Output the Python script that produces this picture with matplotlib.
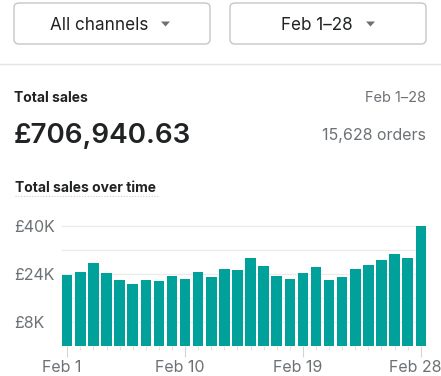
import matplotlib.pyplot as plt
from matplotlib.patches import FancyBboxPatch, Polygon
from matplotlib.lines import Line2D
import matplotlib.transforms as mtransforms

plt.rcParams['font.family'] = ['Inter', 'DejaVu Sans']

days = list(range(1, 29))
sales_k = [23.8, 24.7, 27.8, 24.2, 21.9, 20.7, 21.9, 21.6, 23.4, 22.2,
           24.7, 23.1, 25.8, 25.3, 29.3, 26.6, 23.4, 22.2, 24.2, 26.2,
           21.9, 23.0, 25.8, 26.9, 28.6, 30.6, 29.3, 40.0]
y_ticks = [8, 24, 40]
y_labels = ['£8K', '£24K', '£40K']
x_label_days = [1, 10, 19, 28]

total = '£706,940.63'
orders = '15,628 orders'
period = 'Feb 1–28'

W, H = 441, 376
dark = '#202223'
grey = '#6d7175'
teal = '#00a19a'

fig = plt.figure(figsize=(W / 100, H / 100), dpi=100)
fig.patch.set_facecolor('white')


def fx(px):
    return px / W


def fy(py):
    return 1 - py / H


# header buttons
for x0, label, tri_x in [(14, 'All channels', 165.5), (230, period, 370.5)]:
    box = FancyBboxPatch((fx(x0), fy(44)), fx(196), 41 / H,
                         boxstyle='round,pad=0,rounding_size=0.012',
                         transform=fig.transFigure, facecolor='white',
                         edgecolor='#c4c6c8', linewidth=1.0)
    fig.patches.append(box)
    fig.text(fx(tri_x - 17.5), fy(29.5), label, fontsize=12.3, color=dark,
             ha='right', va='baseline')
    tri = Polygon([(fx(tri_x - 4.5), fy(21.5)), (fx(tri_x + 4.5), fy(21.5)),
                   (fx(tri_x), fy(26.5))], closed=True,
                  transform=fig.transFigure, facecolor=grey, edgecolor='none')
    fig.patches.append(tri)

fig.lines.append(Line2D([0, 1], [fy(64), fy(64)], transform=fig.transFigure,
                        color='#e3e4e6', linewidth=1))

fig.text(fx(14), fy(101.5), 'Total sales', fontsize=10, fontweight='bold',
         color=dark, va='baseline')
fig.text(fx(426), fy(101.5), period, fontsize=10.5, color=grey,
         ha='right', va='baseline')
fig.text(fx(14), fy(143), total, fontsize=20, fontweight='semibold',
         color=dark, va='baseline')
fig.text(fx(426), fy(139.5), orders, fontsize=11.5, color=grey,
         ha='right', va='baseline')
fig.text(fx(15), fy(191.5), 'Total sales over time', fontsize=10,
         fontweight='bold', color=dark, va='baseline')
fig.lines.append(Line2D([fx(15), fx(158)], [fy(196), fy(196)],
                        transform=fig.transFigure, color='#c9cccf',
                        linewidth=0.8, linestyle=(0, (1, 1.5))))

# chart
top_k = 41
ax = fig.add_axes([fx(62), fy(346), fx(426 - 62), 3 * top_k / H])
xs = [d - 1 for d in days]
ax.bar(xs, sales_k, width=0.8, color=teal, zorder=3)
ax.set_xlim(-0.4, 27.4)
ax.set_ylim(0, top_k)

for g in range(8, 41, 8):
    ax.axhline(g, color='#ebebeb', linewidth=1, zorder=1)

for s in ax.spines.values():
    s.set_visible(False)

ax.set_yticks(y_ticks)
ax.set_yticklabels(y_labels)
ax.tick_params(axis='y', length=0, pad=34.5, labelsize=11.5, labelcolor=grey)
for t in ax.get_yticklabels():
    t.set_ha('left')

major = [d - 1 for d in x_label_days]
ax.set_xticks(major)
ax.set_xticklabels([])
ax.set_xticks(xs, minor=True)
ax.tick_params(axis='x', which='major', length=8, width=0.8, color='#d2d5d8')
ax.tick_params(axis='x', which='minor', length=3, width=0.8, color='#e1e3e5')

trans = mtransforms.blended_transform_factory(ax.transData, fig.transFigure)
for d in x_label_days:
    ax.text(d - 1 - 0.4, fy(371.5), f'Feb {d}', transform=trans, fontsize=11.5,
            color=grey, ha='center', va='baseline', clip_on=False)

fig.savefig('out.png', dpi=100, facecolor='white')
